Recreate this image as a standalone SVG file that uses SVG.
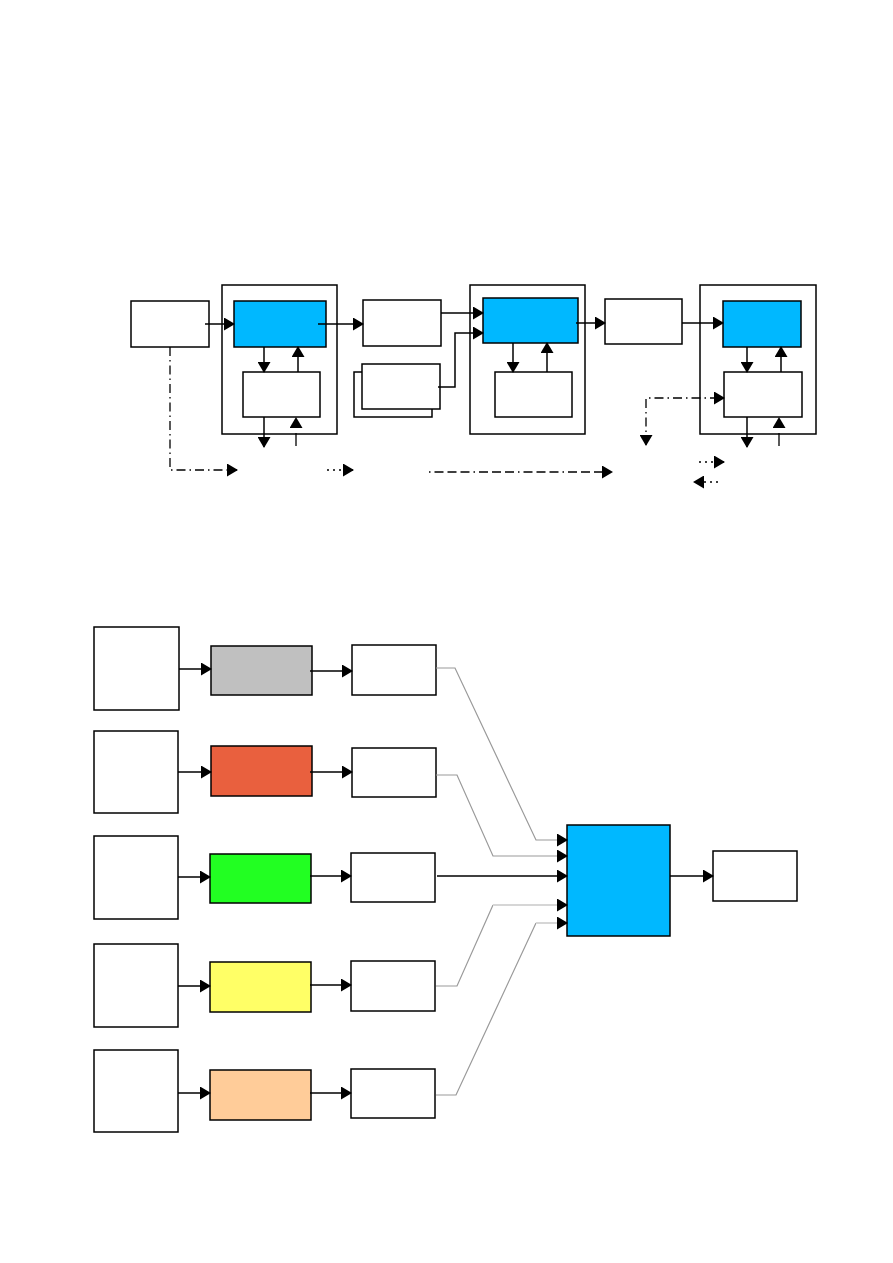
<svg xmlns="http://www.w3.org/2000/svg" width="893" height="1263" viewBox="0 0 893 1263">
<style>
.box{fill:#fff;stroke:#000;stroke-width:1.5}
.blue{fill:#00b8ff;stroke:#000;stroke-width:1.5}
.ln{fill:none;stroke:#000;stroke-width:1.5;marker-end:url(#ah)}
.dd{fill:none;stroke:#000;stroke-width:1.3;stroke-dasharray:9,4,1.5,4;marker-end:url(#ah)}
.dot{fill:none;stroke:#000;stroke-width:1.3;stroke-dasharray:2,4;marker-end:url(#ah)}
.stub{fill:none;stroke:#000;stroke-width:1.3;stroke-dasharray:13,100;marker-end:url(#ah)}
.gl{fill:none;stroke:#9a9a9a;stroke-width:1.2}
.gl2{fill:none;stroke:#d6d6d6;stroke-width:2}
</style>
<defs>
<marker id="ah" markerUnits="userSpaceOnUse" markerWidth="12" markerHeight="13" refX="10" refY="6.5" orient="auto-start-reverse">
<path d="M0,0 L11,6.5 L0,13 z" fill="#000"/>
</marker>
</defs>
<rect width="893" height="1263" fill="#fff"/>

<!-- top diagram -->
<g id="boxA"><rect class="box" x="131" y="301" width="78" height="46"/></g>
<g id="stage1">
<rect class="box" x="222" y="285" width="115" height="149"/>
<rect class="blue" x="234" y="301" width="92" height="46"/>
<rect class="box" x="243" y="372" width="77" height="45"/>
</g>
<g id="boxB"><rect class="box" x="363" y="300" width="78" height="46"/></g>
<g id="stackBoxes">
<rect class="box" x="354" y="372" width="78" height="45"/>
<rect class="box" x="362" y="364" width="78" height="45"/>
</g>
<g id="stage2">
<rect class="box" x="470" y="285" width="115" height="149"/>
<rect class="blue" x="483" y="298" width="95" height="45"/>
<rect class="box" x="495" y="372" width="77" height="45"/>
</g>
<g id="boxC"><rect class="box" x="605" y="299" width="77" height="45"/></g>
<g id="stage3">
<rect class="box" x="700" y="285" width="116" height="149"/>
<rect class="blue" x="723" y="301" width="78" height="46"/>
<rect class="box" x="724" y="372" width="78" height="45"/>
</g>

<!-- bottom diagram -->
<g id="src1"><rect class="box" x="94" y="627" width="85" height="83"/></g>
<g id="proc1"><rect x="211" y="646" width="101" height="49" fill="#c0c0c0" stroke="#000" stroke-width="1.5"/></g>
<g id="dst1"><rect class="box" x="352" y="645" width="84" height="50"/></g>
<g id="src2"><rect class="box" x="94" y="731" width="84" height="82"/></g>
<g id="proc2"><rect x="211" y="746" width="101" height="50" fill="#e9603e" stroke="#000" stroke-width="1.5"/></g>
<g id="dst2"><rect class="box" x="352" y="748" width="84" height="49"/></g>
<g id="src3"><rect class="box" x="94" y="836" width="84" height="83"/></g>
<g id="proc3"><rect x="210" y="854" width="101" height="49" fill="#22ff22" stroke="#000" stroke-width="1.5"/></g>
<g id="dst3"><rect class="box" x="351" y="853" width="84" height="49"/></g>
<g id="src4"><rect class="box" x="94" y="944" width="84" height="83"/></g>
<g id="proc4"><rect x="210" y="962" width="101" height="50" fill="#ffff66" stroke="#000" stroke-width="1.5"/></g>
<g id="dst4"><rect class="box" x="351" y="961" width="84" height="50"/></g>
<g id="src5"><rect class="box" x="94" y="1050" width="84" height="82"/></g>
<g id="proc5"><rect x="210" y="1070" width="101" height="50" fill="#ffcc99" stroke="#000" stroke-width="1.5"/></g>
<g id="dst5"><rect class="box" x="351" y="1069" width="84" height="49"/></g>
<g id="combiner"><rect class="blue" x="567" y="825" width="103" height="111"/></g>
<g id="output"><rect class="box" x="713" y="851" width="84" height="50"/></g>

<g id="connectors">
<!-- top -->
<line class="ln" x1="205" y1="324" x2="234" y2="324"/>
<line class="ln" x1="318" y1="324" x2="363" y2="324"/>
<line class="ln" x1="264" y1="347" x2="264" y2="372"/>
<line class="ln" x1="298" y1="372" x2="298" y2="347"/>
<line class="ln" x1="264" y1="417" x2="264" y2="447"/>
<line class="stub" x1="296" y1="446" x2="296" y2="418"/>
<line class="ln" x1="441" y1="313" x2="483" y2="313"/>
<polyline class="ln" points="438,387 455,387 455,333 483,333"/>
<line class="ln" x1="513" y1="343" x2="513" y2="372"/>
<line class="ln" x1="547" y1="372" x2="547" y2="343"/>
<line class="ln" x1="576" y1="323" x2="605" y2="323"/>
<line class="ln" x1="682" y1="323" x2="723" y2="323"/>
<line class="ln" x1="747" y1="347" x2="747" y2="372"/>
<line class="ln" x1="781" y1="372" x2="781" y2="347"/>
<line class="ln" x1="747" y1="417" x2="747" y2="447"/>
<line class="stub" x1="779" y1="446" x2="779" y2="418"/>
<polyline class="dd" points="170,347 170,470 237,470"/>
<line class="dot" x1="327" y1="470" x2="353" y2="470"/>
<line class="dd" x1="429" y1="472" x2="612" y2="472" style="stroke-dasharray:1.5,4,9,4,9,4,9,4"/>
<path class="dd" d="M646,445 L646,398 L724,398" style="marker-start:url(#ah)"/>
<line class="dot" x1="699" y1="462" x2="724" y2="462"/>
<line class="dot" x1="718" y1="482" x2="694" y2="482"/>
<!-- bottom -->
<line class="ln" x1="179" y1="669" x2="211" y2="669"/>
<line class="ln" x1="310" y1="671" x2="352" y2="671"/>
<line class="ln" x1="178" y1="772" x2="211" y2="772"/>
<line class="ln" x1="310" y1="772" x2="352" y2="772"/>
<line class="ln" x1="178" y1="877" x2="210" y2="877"/>
<line class="ln" x1="310" y1="876" x2="351" y2="876"/>
<line class="ln" x1="178" y1="986" x2="210" y2="986"/>
<line class="ln" x1="310" y1="985" x2="351" y2="985"/>
<line class="ln" x1="178" y1="1093" x2="210" y2="1093"/>
<line class="ln" x1="310" y1="1093" x2="351" y2="1093"/>
<polyline class="gl" points="436,668 455,668 536,840 558,840"/>
<polyline class="gl" points="436,775 457,775 493,856 558,856"/>
<polyline class="gl" points="436,986 457,986 493,905"/>
<polyline class="gl2" points="493,905 558,905"/>
<polyline class="gl" points="436,1095 456,1095 536,923"/>
<polyline class="gl2" points="536,923 558,923"/>
<line class="ln" x1="558" y1="840" x2="567" y2="840"/>
<line class="ln" x1="558" y1="856" x2="567" y2="856"/>
<line class="ln" x1="437" y1="876" x2="567" y2="876"/>
<line class="ln" x1="558" y1="905" x2="567" y2="905"/>
<line class="ln" x1="558" y1="923" x2="567" y2="923"/>
<line class="ln" x1="670" y1="876" x2="713" y2="876"/>
</g>
</svg>
